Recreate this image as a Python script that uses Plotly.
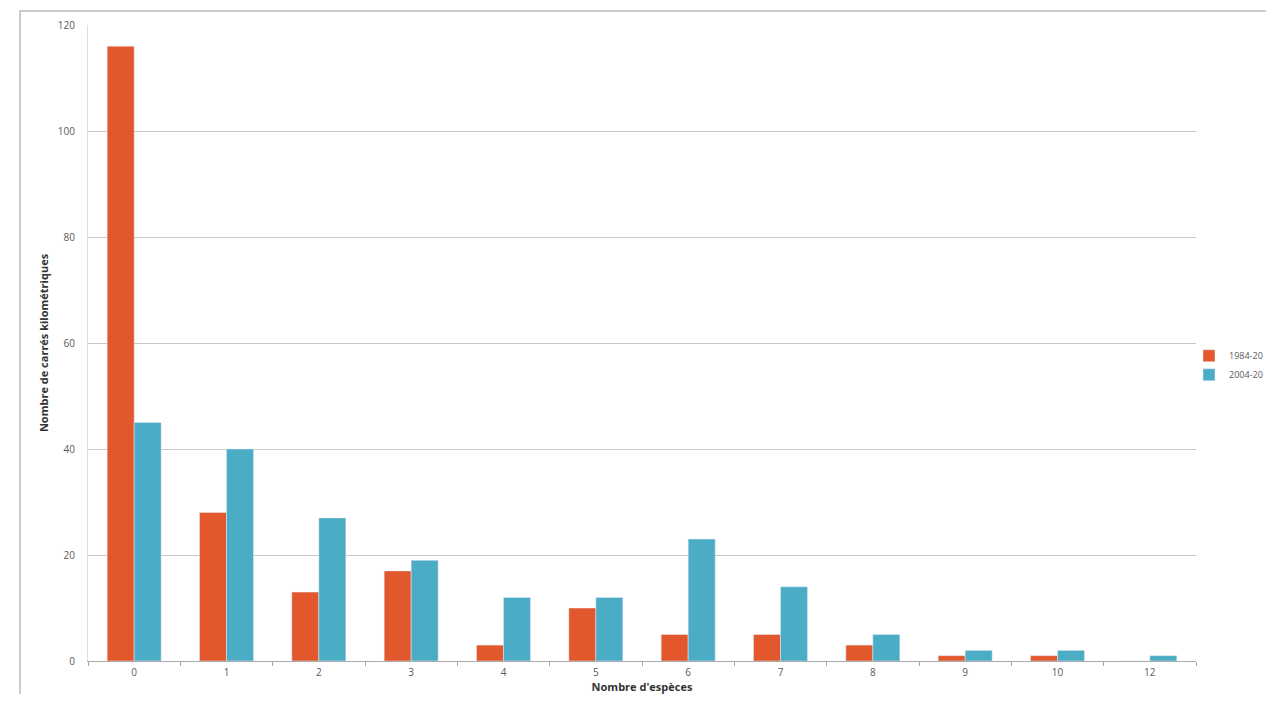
import plotly.graph_objects as go

categories = ["0", "1", "2", "3", "4", "5", "6", "7", "8", "9", "10", "12"]
series_1984 = [116, 28, 13, 17, 3, 10, 5, 5, 3, 1, 1, 0]
series_2004 = [45, 40, 27, 19, 12, 12, 23, 14, 5, 2, 2, 1]
names = ["1984-20", "2004-20"]
y_ticks = [0, 20, 40, 60, 80, 100, 120]

fig = go.Figure()
fig.add_trace(go.Bar(x=categories, y=series_1984, name=names[0], marker_color="#E2572B"))
fig.add_trace(go.Bar(x=categories, y=series_2004, name=names[1], marker_color="#4BACC6"))

OFF = 8  # page body margin
W, H = 1274 - 2 * OFF, 702 - 2 * OFF
L = 88 - OFF
T = 25 - OFF
R = W - (1196 - OFF)
B = H - (661 - OFF)
pw, ph = W - L - R, H - T - B

fig.update_layout(
    width=W, height=H,
    margin=dict(l=L, r=R, t=T, b=B, autoexpand=False),
    paper_bgcolor="white", plot_bgcolor="white",
    barmode="group", bargap=0.415, bargroupgap=0,
    font=dict(family="Open Sans, DejaVu Sans, sans-serif", size=10, color="#595959"),
    showlegend=True,
    legend=dict(x=1 + (1189 - 1196) / pw, y=0.465, xanchor="left", yanchor="middle",
                font=dict(size=9, color="#595959"), itemwidth=30, tracegroupgap=2,
                bgcolor="rgba(0,0,0,0)"),
    xaxis=dict(type="category", tickson="boundaries", ticks="outside", ticklen=4,
               tickcolor="#aaaaaa", showline=True, linecolor="#aaaaaa", showgrid=False,
               ticklabelstandoff=2,
               tickfont=dict(size=10, color="#595959"),
               title=dict(text="<b>Nombre d'espèces</b>", font=dict(size=11, color="#333333"), standoff=6)),
    yaxis=dict(range=[0, 120], tickvals=y_ticks, showgrid=True, gridcolor="#c8c8c8",
               showline=True, linecolor="#dddddd", zeroline=False, ticks="",
               ticklabelstandoff=10,
               tickfont=dict(size=10, color="#595959"),
               title=dict(text="<b>Nombre de carrés kilométriques</b>", font=dict(size=11, color="#333333"), standoff=6)),
)

fig.add_shape(type="rect", xref="paper", yref="paper",
              x0=(20 - 88) / pw, x1=1.3, y0=-0.2, y1=1 + (25 - 11) / ph,
              line=dict(color="#bbbbbb", width=1.5), fillcolor="rgba(0,0,0,0)", layer="below")

fig.write_html("out.html")
